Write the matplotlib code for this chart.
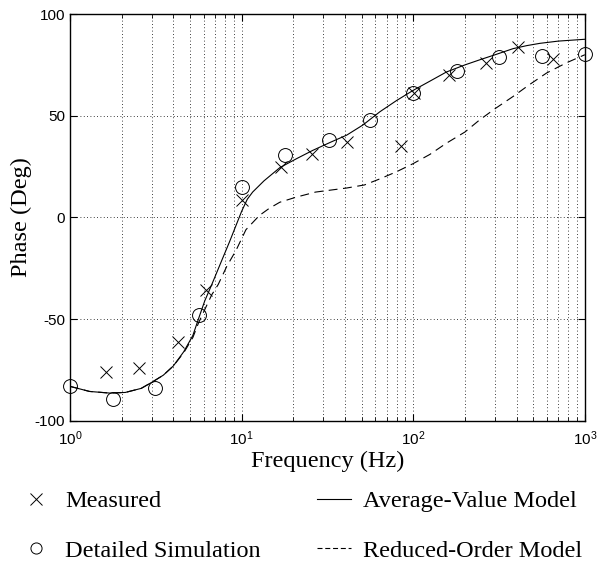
import matplotlib
matplotlib.use('Agg')
import matplotlib.pyplot as plt
from matplotlib.lines import Line2D

# frekvenser (Hz) og fase (grader) lest av figuren
målt_f = [1.63, 2.54, 4.25, 6.2, 10.0, 16.9, 25.7, 41.3, 84.6, 101, 162, 264, 408, 653]
målt_fase = [-76, -74, -61, -35.5, 8.5, 25, 31, 37, 35, 61, 70, 76, 84, 78]

sim_f = [1.0, 1.78, 3.14, 5.61, 10.0, 17.8, 32.3, 56.3, 99.7, 180, 316, 564, 1000]
sim_fase = [-82.6, -89, -84, -48, 15, 30.5, 38, 48, 61, 72, 79, 79.5, 80.5]

snitt_f = [1.0, 1.3, 1.7, 2.1, 2.6, 3.0, 3.5, 4.0, 4.6, 5.2, 5.6, 6.1, 6.7, 7.5, 8.5,
           10.0, 10.8, 11.6, 13.5, 16.7, 21, 26, 33, 41, 51, 64, 80, 100, 125, 156,
           200, 244, 300, 382, 460, 547, 700, 1000]
snitt_fase = [-83, -85.5, -86.3, -86, -84, -81, -77.5, -73, -66, -58, -50, -41, -33, -23, -12,
              3, 9, 12.5, 18, 24.5, 29, 33, 37, 40.5, 45.5, 52, 57.5, 62.5, 67, 71.5,
              75, 77.5, 80, 83, 84.5, 85.6, 86.7, 87.6]

redusert_f = [1.0, 1.3, 1.7, 2.1, 2.6, 3.0, 3.5, 4.0, 4.6, 5.2, 5.6, 6.2, 6.7, 7.3, 8.2,
              9.3, 10.6, 12.7, 14.5, 16.7, 20.8, 27, 41, 52, 64, 80, 100, 125, 156,
              200, 244, 300, 382, 470, 598, 780, 1000]
redusert_fase = [-83, -85.5, -86.3, -86, -84, -81, -77.5, -73, -66.5, -59, -52, -44, -38, -33, -24,
                 -16, -6, 1, 4.5, 7.5, 10, 12.5, 14.5, 16, 19, 22.5, 26.5, 31, 36.5,
                 42, 48, 53.5, 59.5, 65, 71, 76, 80]

serif = ['Liberation Serif', 'DejaVu Serif']
plt.rcParams['font.family'] = ['Liberation Sans', 'DejaVu Sans']
plt.rcParams['mathtext.default'] = 'regular'
plt.rcParams['axes.unicode_minus'] = False

fig = plt.figure(figsize=(5.98, 5.62), dpi=100)
ax = fig.add_axes([0.117, 0.251, 0.861, 0.724])

ax.plot(snitt_f, snitt_fase, color='black', linewidth=0.8)
ax.plot(redusert_f, redusert_fase, color='black', linewidth=0.8, linestyle=(0, (8, 5)))
ax.plot(målt_f, målt_fase, linestyle='none', marker='x', color='black',
        markersize=9, markeredgewidth=0.7, clip_on=False)
ax.plot(sim_f, sim_fase, linestyle='none', marker='o', markerfacecolor='none',
        markeredgecolor='black', markersize=10, markeredgewidth=0.7, clip_on=False)

ax.set_xscale('log')
ax.set_xlim(1, 1000)
ax.set_ylim(-100, 100)
ax.set_yticks([-100, -50, 0, 50, 100])
ax.grid(True, which='major', color='black', linestyle=(0, (1, 3)), linewidth=0.6)
ax.grid(True, which='minor', axis='x', color='black', linestyle=(0, (1, 3)), linewidth=0.6)
ax.tick_params(which='both', direction='in', top=True, right=True, labelsize=11)
ax.tick_params(which='major', length=5)
ax.tick_params(which='minor', length=3)
ax.tick_params(axis='x', which='major', pad=6)
for s in ax.spines.values():
    s.set_linewidth(1.0)

ax.set_xlabel('Frequency (Hz)', family=serif, fontsize=17.5, labelpad=2)
ax.set_ylabel('Phase (Deg)', family=serif, fontsize=17.5, labelpad=2)

håndtak = [
    Line2D([], [], linestyle='none', marker='x', color='black', markersize=8, markeredgewidth=0.7),
    Line2D([], [], linestyle='none', marker='o', markerfacecolor='none', markeredgecolor='black',
           markersize=8, markeredgewidth=0.7),
    Line2D([], [], color='black', linewidth=0.8),
    Line2D([], [], color='black', linewidth=0.8, linestyle=(0, (4.5, 2.5))),
]
etiketter = ['Measured', 'Detailed Simulation', 'Average-Value Model', 'Reduced-Order Model']
fig.legend(håndtak, etiketter, ncol=2, loc='upper left', bbox_to_anchor=(0.032, 0.128),
           frameon=False, borderpad=0, borderaxespad=0, handlelength=1.4,
           handletextpad=0.5, columnspacing=2.3, labelspacing=1.13,
           prop={'family': serif, 'size': 17.5})

fig.savefig('out.png', dpi=100)
